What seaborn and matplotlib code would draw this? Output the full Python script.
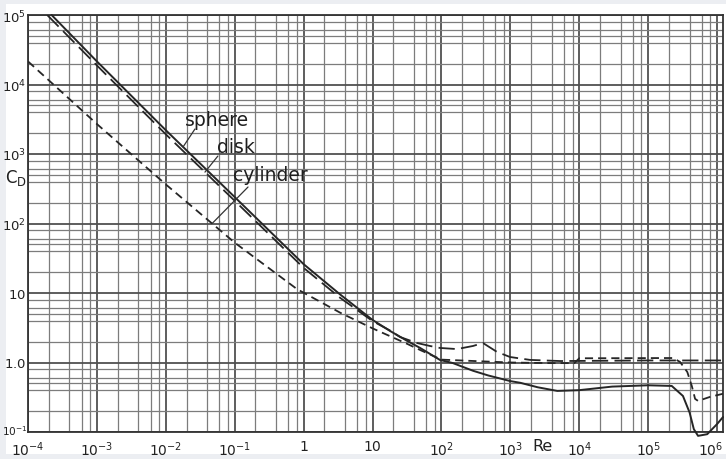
import matplotlib
matplotlib.use('Agg')
import matplotlib.pyplot as plt
import matplotlib.transforms as mtransforms
from matplotlib.patches import Rectangle
from matplotlib.ticker import LogLocator, NullFormatter
import seaborn as sns

# ---- data (Re, drag coefficient C_D) ----
sphere_re = [2.2e-4, 1e-3, 1e-2, 1e-1, 1, 3.4, 10, 18, 32, 49, 95, 147, 288, 480,
             1000, 1400, 2500, 4800, 1e4, 3e4, 1e5, 2.2e5, 3.2e5, 4.0e5, 4.6e5,
             5.3e5, 7.2e5, 1e6, 1.22e6]
sphere_cd = [1e5, 21500, 2200, 240, 26, 9.5, 4.1, 2.84, 2.04, 1.62, 1.09, 0.98, 0.76, 0.65,
             0.54, 0.51, 0.44, 0.39, 0.40, 0.45, 0.47, 0.46, 0.33, 0.19, 0.11,
             0.088, 0.093, 0.13, 0.164]

disk_re = [1.9e-4, 1e-3, 1e-2, 1e-1, 1, 3.4, 10, 18, 25, 44, 68, 95, 168, 288, 400,
           640, 990, 1930, 5250, 1e5, 1.22e6]
disk_cd = [1e5, 18800, 1920, 212, 23, 8.5, 3.95, 2.88, 2.33, 1.91, 1.73, 1.62, 1.56, 1.73, 1.91,
           1.42, 1.20, 1.09, 1.05, 1.07, 1.07]

cyl_re = [1e-4, 1e-3, 1e-2, 1e-1, 0.8, 3.4, 10, 32, 50, 100, 300, 1000, 3800, 8500, 1e4,
          2.3e5, 2.9e5, 3.7e5, 4.3e5, 4.8e5, 5.3e5, 7.9e5, 1.22e6]
cyl_cd = [21500, 2700, 365, 53, 11.4, 5.2, 3.1, 1.85, 1.5, 1.1, 1.05, 1.0, 0.98, 0.98, 1.15,
          1.16, 1.02, 0.73, 0.46, 0.30, 0.28, 0.32, 0.355]

x_ticks = [1e-4, 1e-3, 1e-2, 1e-1, 1, 10, 1e2, 1e3, 1e4, 1e5, 1e6]
x_tick_labels = [r'$10^{-4}$', r'$10^{-3}$', r'$10^{-2}$', r'$10^{-1}$', r'$1$', r'$10$',
                 r'$10^{2}$', r'$10^{3}$', r'$10^{4}$', r'$10^{5}$', r'$10^{6}$']
y_ticks = [1e-1, 1, 10, 1e2, 1e3, 1e4, 1e5]
y_tick_labels = [r'$10^{-1}$', r'$1.0$', r'$10$', r'$10^{2}$', r'$10^{3}$', r'$10^{4}$', r'$10^{5}$']

# labels: (text, text position, leader end on curve, leader start)
labels = [
    ('sphere',   (0.055, 3160), (0.0178, 1264), (0.0265, 2290)),
    ('disk',     (0.104, 1300), (0.037, 549),   (0.057, 935)),
    ('cylinder', (0.325, 513),  (0.047, 100),   (0.156, 335)),
]

sns.set_style('white')
plt.rcParams['font.family'] = ['DejaVu Sans']
plt.rcParams['mathtext.fontset'] = 'dejavusans'

ink = '#262626'
fig = plt.figure(figsize=(7.26, 4.6), dpi=100)
fig.patch.set_facecolor('#eceef2')
fig.add_artist(Rectangle((6 / 726, 5 / 460), 720 / 726, 450 / 460, transform=fig.transFigure,
                         facecolor='white', edgecolor='none', zorder=-5))

ax = fig.add_axes([28 / 726, 27 / 460, 695 / 726, 417 / 460])
ax.set_facecolor('white')
ax.set_xscale('log')
ax.set_yscale('log')

sns.lineplot(x=sphere_re, y=sphere_cd, ax=ax, color=ink, lw=1.4, estimator=None, sort=False,
             clip_on=False, zorder=5)
sns.lineplot(x=disk_re, y=disk_cd, ax=ax, color=ink, lw=1.3, estimator=None, sort=False,
             linestyle=(0, (9, 3.5)), zorder=5)
sns.lineplot(x=cyl_re, y=cyl_cd, ax=ax, color=ink, lw=1.3, estimator=None, sort=False,
             linestyle=(0, (4.5, 2.8)), zorder=5)

ax.set_xlim(1e-4, 1.22e6)
ax.set_ylim(0.1, 1e5)
ax.set_xticks(x_ticks, x_tick_labels)
ax.set_yticks(y_ticks, y_tick_labels)
ax.xaxis.set_minor_locator(LogLocator(base=10, subs=(2, 4, 6, 8), numticks=100))
ax.yaxis.set_minor_locator(LogLocator(base=10, subs=(2, 4, 5, 6, 8), numticks=100))
ax.xaxis.set_minor_formatter(NullFormatter())
ax.yaxis.set_minor_formatter(NullFormatter())
ax.grid(which='major', color='#505050', lw=1.3)
ax.grid(which='minor', color='#7c7c7c', lw=0.9)
ax.set_axisbelow(True)
ax.tick_params(axis='both', which='both', length=0, colors='#222222')
ax.tick_params(axis='x', pad=5, labelsize=10)
ax.tick_params(axis='y', pad=1.5, labelsize=9.5)
ax.set_xlabel('')
ax.set_ylabel('')
for s in ax.spines.values():
    s.set_color('#333333')
    s.set_linewidth(1.3)

# keep the edge labels inside the figure
last_x = ax.get_xticklabels()[-1]
last_x.set_transform(last_x.get_transform() + mtransforms.ScaledTranslation(-6 / 100, 0, fig.dpi_scale_trans))
first_y = ax.get_yticklabels()[0]
first_y.set_fontsize(7.6)
first_y.set_transform(first_y.get_transform() + mtransforms.ScaledTranslation(2 / 100, 3 / 100, fig.dpi_scale_trans))

for txt, pos, end, start in labels:
    ax.text(pos[0], pos[1], txt, fontsize=13.5, ha='center', va='center', color='#1e1e1e',
            zorder=6)
    ax.annotate('', xy=end, xytext=start,
                arrowprops=dict(arrowstyle='-', lw=0.9, color='#333333',
                                shrinkA=0, shrinkB=0), zorder=6)

trans = mtransforms.blended_transform_factory(ax.transData, ax.transAxes)
ax.text(2900, -0.032, 'Re', transform=trans, fontsize=11.5, ha='center', va='center',
        color='#222222')
fig.text(16 / 726, 1 - 178 / 460, r'$\mathrm{C_D}$', fontsize=12, ha='center', va='center',
         color='#222222')

fig.savefig('out.png', dpi=100, facecolor=fig.get_facecolor())
